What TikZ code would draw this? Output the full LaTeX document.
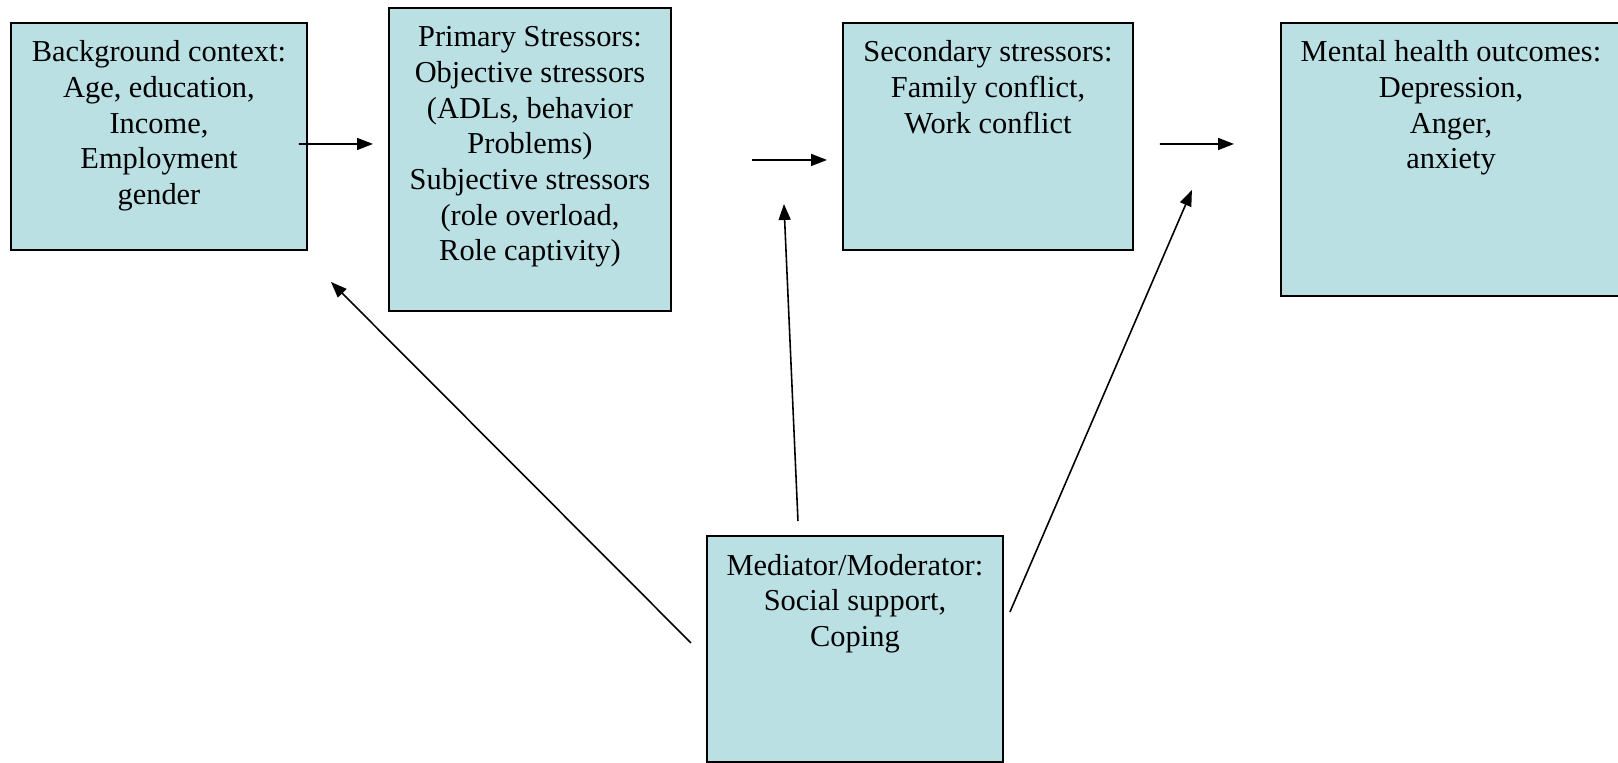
\documentclass[tikz,border=0pt]{standalone}
\usepackage{fontspec}
\setmainfont{Liberation Serif}
\usetikzlibrary{arrows.meta,calc}
\definecolor{stagefill}{RGB}{186,224,228}
\newlength\pxu
\setlength\pxu{0.02cm}
% box of given width and height (in px), text at the top
\newcommand\stagetext[3]{\parbox[c][#2\pxu][t]{#1\pxu}{\centering\vspace*{8pt}\strut #3}}
\tikzset{
  stage/.style={draw=black, line width=1.1pt, fill=stagefill, inner sep=0pt,
    anchor=north west, font=\fontsize{17.3}{20.3}\selectfont},
  link/.style={line width=0.9pt, -{Triangle[length=0.32cm,width=0.24cm]}}
}
\begin{document}
\begin{tikzpicture}[x=0.02cm,y=-0.02cm]
\useasboundingbox (0,0) rectangle (1618,762);

\node [stage] (bg) at (10,22) {\stagetext{296}{227}{Background context:\\ Age, education,\\ Income,\\ Employment\\ gender}};
\node [stage] (prim) at (388,7) {\stagetext{282}{303}{Primary Stressors:\\ Objective stressors\\ (ADLs, behavior\\ Problems)\\ Subjective stressors\\ (role overload,\\ Role captivity)}};
\node [stage] (sec) at (842,22) {\stagetext{290}{227}{Secondary stressors:\\ Family conflict,\\ Work conflict}};
\node [stage] (ment) at (1280,22) {\stagetext{340}{273}{Mental health outcomes:\\ Depression,\\ Anger,\\ anxiety}};
\node [stage] (med) at (706,535) {\stagetext{296}{226}{Mediator/Moderator:\\ Social support,\\ Coping}};

% main path
\draw [link] ($(bg.east)+(-9,7.5)$) -- ($(prim.west)+(-15,-15.5)$);
\draw [link] ($(prim.east)+(80,0.5)$) -- ($(sec.west)+(-15,23.5)$);
\draw [link] ($(sec.east)+(26,7.5)$) -- ($(ment.west)+(-46,-15.5)$);

% mediator links
\draw [link] ($(med.west)+(-15,-6)$) -- ($(bg.south east)+(23,31)$);
\draw [link] ($(med.north)+(-57,-14)$) -- ($(prim.east)+(112,44.5)$);
\draw [link] ($(med.east)+(6,-37)$) -- ($(sec.east)+(58,53.5)$);
\end{tikzpicture}
\end{document}
